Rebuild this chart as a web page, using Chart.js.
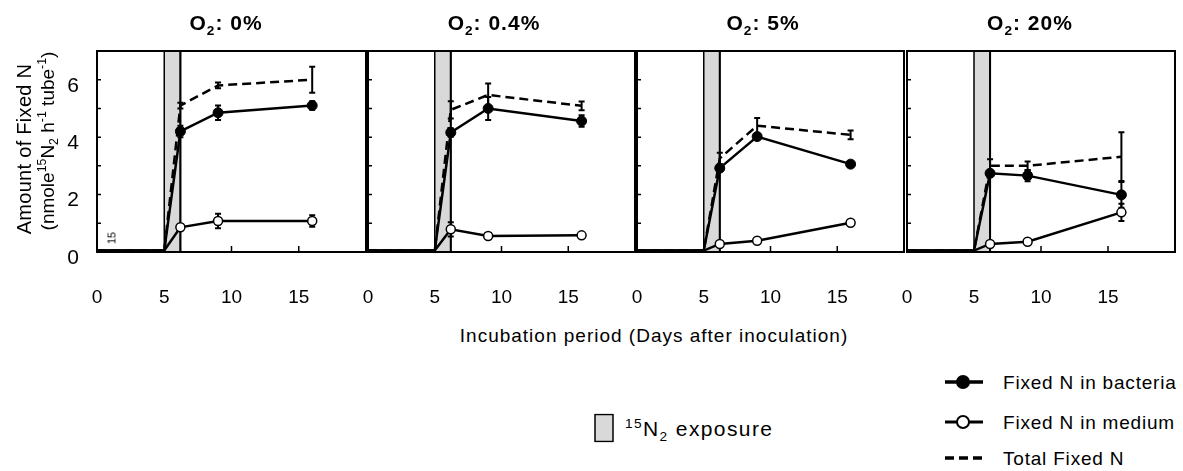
<!DOCTYPE html>
<html><head><meta charset="utf-8">
<script src="https://cdn.jsdelivr.net/npm/chart.js@4.4.1/dist/chart.umd.min.js"></script>
<style>
html,body{margin:0;padding:0;background:#fff;width:1183px;height:471px;overflow:hidden;font-family:"Liberation Sans",Arial,sans-serif;color:#000}
#wrap{position:relative;width:1183px;height:471px}
canvas{position:absolute;top:0}
.t{position:absolute;white-space:nowrap;line-height:1}
.c{transform:translate(-50%,-50%)}
.r{transform:translate(-50%,-50%) rotate(-90deg)}
.ptitle{font-weight:bold;font-size:21px;letter-spacing:1px}
sub,sup{font-size:65%;line-height:0}
</style></head><body>
<div id="wrap"></div>
<script>
// ---------------- data ----------------
const panelTitles = ['0%', '0.4%', '5%', '20%'];
const days = [0, 5, 6.2, 9, 16];
const exposureStart = 5;
const exposureEnd = 6.2;
const xTickValues = [0, 5, 10, 15];
const xInnerTicks = [10, 15];
const yTickValues = [0, 2, 4, 6];
const yInnerTicks = [1, 2, 3, 4, 5, 6];

const bacteria0 = [0.05, 0.05, 4.2, 4.85, 5.1];
const medium0   = [0.05, 0.05, 0.86, 1.08, 1.08];
const total0    = [0.05, 0.05, 5.1, 5.8, 6.0];
const bacteriaErr0 = [0, 0, 0.2, 0.25, 0.15];
const mediumErr0   = [0, 0, 0.1, 0.25, 0.2];
const totalErr0    = [0, 0, 0.1, 0.1, 0.45];

const bacteria1 = [0.05, 0.05, 4.16, 5.0, 4.56];
const medium1   = [0.05, 0.05, 0.79, 0.56, 0.58];
const total1    = [0.05, 0.05, 4.95, 5.47, 5.09];
const bacteriaErr1 = [0, 0, 0.15, 0.4, 0.2];
const mediumErr1   = [0, 0, 0.25, 0, 0];
const totalErr1    = [0, 0, 0.3, 0.4, 0.15];

const bacteria2 = [0.05, 0.05, 2.92, 4.02, 3.06];
const medium2   = [0.05, 0.05, 0.28, 0.39, 1.02];
const total2    = [0.05, 0.05, 3.26, 4.40, 4.08];
const bacteriaErr2 = [0, 0, 0.1, 0.1, 0.05];
const mediumErr2   = [0, 0, 0, 0, 0];
const totalErr2    = [0, 0, 0.2, 0.27, 0.15];

const bacteria3 = [0.05, 0.05, 2.74, 2.66, 1.99];
const medium3   = [0.05, 0.05, 0.28, 0.36, 1.38];
const total3    = [0.05, 0.05, 3.0, 3.0, 3.32];
const bacteriaErr3 = [0, 0, 0.1, 0.2, 0.45];
const mediumErr3   = [0, 0, 0, 0, 0.3];
const totalErr3    = [0, 0, 0.23, 0.15, 0.85];

const bacteriaSets = [bacteria0, bacteria1, bacteria2, bacteria3];
const mediumSets = [medium0, medium1, medium2, medium3];
const totalSets = [total0, total1, total2, total3];
const bacteriaErrSets = [bacteriaErr0, bacteriaErr1, bacteriaErr2, bacteriaErr3];
const mediumErrSets = [mediumErr0, mediumErr1, mediumErr2, mediumErr3];
const totalErrSets = [totalErr0, totalErr1, totalErr2, totalErr3];

// ---------------- layout ----------------
const FONT = '"Liberation Sans", Arial, sans-serif';
const plotLeft = [97, 368, 637, 907];
const plotRight = [366, 635, 904, 1175];
const plotTop = 51, plotBottom = 252, canvasH = 320;
const titleX = [226, 494, 763, 1030];

const wrap = document.getElementById('wrap');
function addText(html, x, y, cls, style) {
  const d = document.createElement('div');
  d.className = 't ' + cls;
  d.innerHTML = html;
  d.style.left = x + 'px'; d.style.top = y + 'px';
  if (style) d.style.cssText += style;
  wrap.appendChild(d);
  return d;
}

function makeDecor(idx) {
  return {
    id: 'decor' + idx,
    beforeDatasetsDraw(chart) {
      const { ctx, chartArea: a, scales: { x, y } } = chart;
      ctx.save();
      const x0 = x.getPixelForValue(exposureStart), x1 = x.getPixelForValue(exposureEnd);
      ctx.fillStyle = '#d9d9d9';
      ctx.fillRect(x0, a.top, x1 - x0, a.bottom - a.top);
      ctx.strokeStyle = '#000';
      ctx.lineWidth = 1.5;
      ctx.strokeRect(x0, a.top, x1 - x0, a.bottom - a.top);
      ctx.lineWidth = 2;
      ctx.beginPath(); ctx.moveTo(x1, a.top); ctx.lineTo(x1, a.bottom); ctx.stroke();
      // error bars
      const series = [[bacteriaSets[idx], bacteriaErrSets[idx]], [mediumSets[idx], mediumErrSets[idx]], [totalSets[idx], totalErrSets[idx]]];
      ctx.lineWidth = 2;
      series.forEach(([vals, errs]) => {
        vals.forEach((v, i) => {
          const e = errs[i];
          if (!e) return;
          const px = x.getPixelForValue(days[i]);
          const yt = y.getPixelForValue(v + e), yb = y.getPixelForValue(v - e);
          ctx.beginPath();
          ctx.moveTo(px, yt); ctx.lineTo(px, yb);
          ctx.moveTo(px - 3, yt); ctx.lineTo(px + 3, yt);
          ctx.moveTo(px - 3, yb); ctx.lineTo(px + 3, yb);
          ctx.stroke();
        });
      });
      ctx.restore();
    },
    afterDraw(chart) {
      const { ctx, chartArea: a, scales: { x, y } } = chart;
      ctx.save();
      ctx.strokeStyle = '#000';
      ctx.lineWidth = 1.5;
      ctx.beginPath();
      yInnerTicks.forEach(v => { const py = y.getPixelForValue(v); ctx.moveTo(a.left, py); ctx.lineTo(a.left + 4, py); });
      xInnerTicks.forEach(v => { const px = x.getPixelForValue(v); ctx.moveTo(px, a.bottom); ctx.lineTo(px, a.bottom - 6); });
      ctx.stroke();
      ctx.lineWidth = 2;
      ctx.strokeRect(a.left, a.top, a.right - a.left, a.bottom - a.top);
      ctx.restore();
    }
  };
}

for (let i = 0; i < 4; i++) {
  const cLeft = i === 0 ? 0 : plotLeft[i] - 16;
  const cRight = plotRight[i] + 6;
  const yW = i === 0 ? 97 : 0;
  const cv = document.createElement('canvas');
  cv.width = cRight - cLeft; cv.height = canvasH;
  cv.style.left = cLeft + 'px';
  cv.style.width = (cRight - cLeft) + 'px'; cv.style.height = canvasH + 'px';
  wrap.appendChild(cv);
  const pts = arr => days.map((d, k) => ({ x: d, y: arr[k] }));
  const markerR = r => days.map(d => d > exposureStart ? r : 0);
  new Chart(cv, {
    type: 'line',
    data: {
      datasets: [
        { label: 'Fixed N in medium', data: pts(mediumSets[i]), borderColor: '#000', borderWidth: 2.5, tension: 0,
          pointRadius: markerR(4.5), pointBackgroundColor: '#fff', pointBorderColor: '#000', pointBorderWidth: 1.5, clip: false },
        { label: 'Fixed N in bacteria', data: pts(bacteriaSets[i]), borderColor: '#000', borderWidth: 2.5, tension: 0,
          pointRadius: markerR(5), pointBackgroundColor: '#000', pointBorderColor: '#000', pointBorderWidth: 1, clip: false },
        { label: 'Total Fixed N', data: pts(totalSets[i]), borderColor: '#000', borderWidth: 2.5, borderDash: [9, 5], tension: 0,
          pointRadius: 0, clip: false }
      ]
    },
    options: {
      responsive: false, animation: false, devicePixelRatio: 1,
      layout: { padding: { top: plotTop, left: plotLeft[i] - cLeft - yW, right: cRight - plotRight[i], bottom: 0 } },
      plugins: { legend: { display: false }, tooltip: { enabled: false } },
      scales: {
        x: {
          type: 'linear', min: 0, max: 20,
          afterBuildTicks: s => { s.ticks = xTickValues.map(v => ({ value: v })); },
          afterFit: s => { s.height = canvasH - plotBottom; },
          grid: { display: true, drawOnChartArea: false, drawTicks: true, tickLength: 31, color: 'rgba(0,0,0,0)' },
          border: { display: false },
          ticks: { color: '#000', font: { family: FONT, size: 19 }, padding: 3, maxRotation: 0, autoSkip: false }
        },
        y: {
          type: 'linear', min: 0, max: 7, display: i === 0,
          afterBuildTicks: s => { s.ticks = yTickValues.map(v => ({ value: v })); },
          afterFit: s => { s.width = yW; },
          grid: { display: false }, border: { display: false },
          ticks: { display: i === 0, color: '#000', font: { family: FONT, size: 21 }, padding: 10, labelOffset: 6 }
        }
      }
    },
    plugins: [makeDecor(i)]
  });
  addText('O<sub>2</sub>: ' + panelTitles[i], titleX[i], 22, 'c ptitle');
}

// axis titles
addText('Amount of Fixed N', 24, 149, 'r', 'font-size:20px;letter-spacing:0.3px');
addText('(nmole<sup>15</sup>N<sub>2</sub> h<sup>-1</sup> tube<sup>-1</sup>)', 47, 141, 'r', 'font-size:19px');
addText('15', 112, 238, 'r', 'font-size:11px');
addText('Incubation period (Days after inoculation)', 654, 335, 'c', 'font-size:19px;letter-spacing:1px');

// legends
addText('<svg width="20" height="29" style="display:block"><rect x="1" y="1" width="18" height="27" fill="#d9d9d9" stroke="#000" stroke-width="1.5"/></svg>', 604, 428, 'c');
addText('<sup>15</sup>N<sub>2</sub> exposure', 625, 428, '', 'font-size:21px;letter-spacing:1.4px;transform:translateY(-50%)');
const legendItems = [
  ['Fixed N in bacteria', 382, '<line x1="0" y1="10" x2="38" y2="10" stroke="#000" stroke-width="3.5"/><circle cx="18" cy="10" r="7" fill="#000"/>'],
  ['Fixed N in medium', 422, '<line x1="0" y1="10" x2="38" y2="10" stroke="#000" stroke-width="3"/><circle cx="18" cy="10" r="6" fill="#fff" stroke="#000" stroke-width="2"/>'],
  ['Total Fixed N', 458, '<line x1="0" y1="10" x2="38" y2="10" stroke="#000" stroke-width="3.5" stroke-dasharray="9,5"/>']
];
legendItems.forEach(([label, yc, svg]) => {
  addText('<svg width="38" height="20" style="display:block">' + svg + '</svg>', 964, yc, 'c');
  addText(label, 1003, yc, '', 'font-size:19px;letter-spacing:0.8px;transform:translateY(-50%)');
});
</script>
</body></html>
